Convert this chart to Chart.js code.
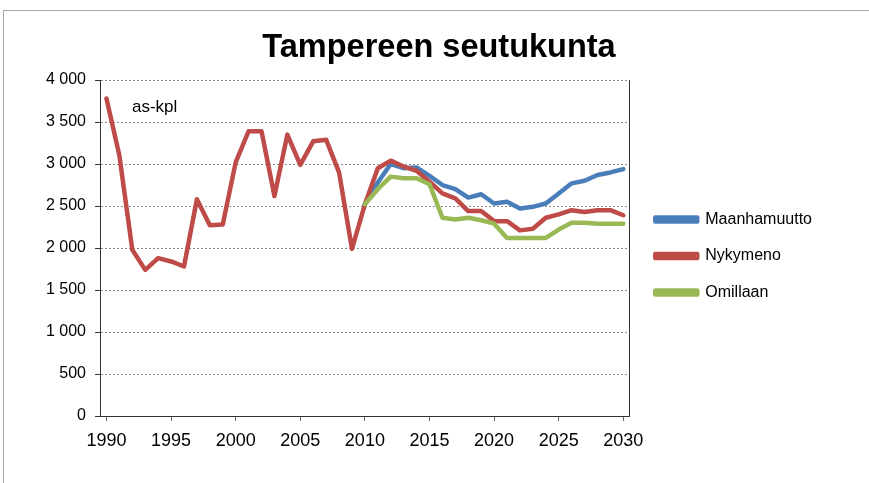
<!DOCTYPE html>
<html>
<head>
<meta charset="utf-8">
<script src="https://cdn.jsdelivr.net/npm/chart.js@4/dist/chart.umd.min.js"></script>
<style>
body { margin:0; background:#fff; overflow:hidden; }
#wrap { position:relative; width:869px; height:483px; overflow:hidden; }
#frame { position:absolute; left:3px; top:10px; width:900px; height:500px; border-left:1px solid #a6a6a6; border-top:1px solid #a6a6a6; }
canvas { position:absolute; left:0; top:0; }
</style>
</head>
<body>
<div id="wrap"><div id="frame"></div><canvas id="chart" width="869" height="483"></canvas></div>
<script>
// vuodet 1990-2030
var years = []
for (var y = 1990; y <= 2030; y++) years.push(y)

var nykymeno = [3780, 3100, 1980, 1740, 1880, 1840, 1780, 2580, 2270, 2280,
                3020, 3390, 3390, 2620, 3350, 2990, 3270, 3290, 2900, 1990,
                2520, 2950, 3040, 2970, 2920, 2790, 2650, 2590, 2440, 2440,
                2320, 2320, 2210, 2230, 2360, 2400, 2450, 2430, 2450, 2450,
                2390]

var maanhamuutto = [null, null, null, null, null, null, null, null, null, null,
                    null, null, null, null, null, null, null, null, null, null,
                    2520, 2780, 3000, 2950, 2960, 2860, 2750, 2700, 2600, 2640,
                    2530, 2550, 2470, 2490, 2530, 2650, 2770, 2800, 2870, 2900,
                    2940]

var omillaan = [null, null, null, null, null, null, null, null, null, null,
                null, null, null, null, null, null, null, null, null, null,
                2520, 2700, 2850, 2830, 2830, 2760, 2360, 2340, 2360, 2330,
                2290, 2120, 2120, 2120, 2120, 2220, 2300, 2300, 2290, 2290,
                2290]

var font = "'Liberation Sans', Arial, sans-serif"

function fmt(v) {
    return String(v).replace(/\B(?=(\d{3})+(?!\d))/g, ' ')
}

// "as-kpl" unit label inside the plot
var extras = {
    id: 'extras',
    afterDatasetsDraw: function(chart) {
        var a = chart.chartArea
        var ctx = chart.ctx
        ctx.save()
        ctx.fillStyle = '#000'
        ctx.font = '17px ' + font
        ctx.textBaseline = 'middle'
        ctx.fillText('as-kpl', a.left + 32, a.top + 27)
        ctx.restore()
    }
}

var chart = new Chart(document.getElementById('chart').getContext('2d'), {
    type: 'line',
    data: {
        labels: years,
        datasets: [
            {
                label: 'Maanhamuutto',
                data: maanhamuutto,
                borderColor: '#4a7ebb',
                backgroundColor: '#4a7ebb',
                order: 3
            },
            {
                label: 'Nykymeno',
                data: nykymeno,
                borderColor: '#be4b48',
                backgroundColor: '#be4b48',
                order: 2
            },
            {
                label: 'Omillaan',
                data: omillaan,
                borderColor: '#98b954',
                backgroundColor: '#98b954',
                order: 1
            }
        ]
    },
    options: {
        responsive: false,
        animation: false,
        layout: { padding: { left: 56, right: 47, top: 29, bottom: 0 } },
        elements: {
            line: { borderWidth: 4.5, tension: 0, borderJoinStyle: 'round', borderCapStyle: 'round' },
            point: { radius: 0 }
        },
        scales: {
            x: {
                offset: true,
                grid: {
                    offset: false,
                    drawOnChartArea: false,
                    tickLength: 5,
                    tickColor: function(c) { return years[c.index] % 5 === 0 ? '#666' : 'rgba(0,0,0,0)' }
                },
                border: { color: '#333', dash: [2, 2] },
                ticks: {
                    autoSkip: false,
                    maxRotation: 0,
                    padding: 9,
                    color: '#000',
                    font: { family: font, size: 18 },
                    callback: function(v, i) { return years[i] % 5 === 0 ? String(years[i]) : '' }
                },
                afterFit: function(s) { s.height = 67 }
            },
            y: {
                min: 0,
                max: 4000,
                ticks: {
                    stepSize: 500,
                    padding: 9,
                    color: '#000',
                    font: { family: font, size: 16 },
                    callback: function(v) { return fmt(v) }
                },
                grid: {
                    color: '#8c8c8c',
                    tickColor: '#333',
                    tickLength: 5,
                    lineWidth: 1
                },
                border: { color: '#333', dash: [2, 2] },
                afterFit: function(s) {
                    s.width = 44
                    // labels are wider than the axis box, don't clip them
                    s._computeLabelArea = function() {}
                }
            },
            // only used for the dotted right edge of the plot
            y2: {
                position: 'right',
                min: 0,
                max: 4000,
                ticks: { display: false },
                grid: { drawOnChartArea: false, drawTicks: false },
                border: { color: '#333', dash: [2, 2] },
                afterFit: function(s) { s.width = 5 }
            }
        },
        plugins: {
            title: {
                display: true,
                text: 'Tampereen seutukunta',
                color: '#000',
                font: { family: font, size: 32.5, weight: 'bold', lineHeight: 1.17 },
                padding: { top: 0, bottom: 13 }
            },
            legend: {
                position: 'right',
                maxWidth: 200,
                labels: {
                    boxWidth: 42,
                    boxHeight: 4,
                    padding: 20.5,
                    color: '#000',
                    font: { family: font, size: 16 },
                    sort: function(a, b) { return a.datasetIndex - b.datasetIndex }
                }
            },
            tooltip: { enabled: false }
        }
    },
    plugins: [extras]
});
</script>
</body>
</html>
